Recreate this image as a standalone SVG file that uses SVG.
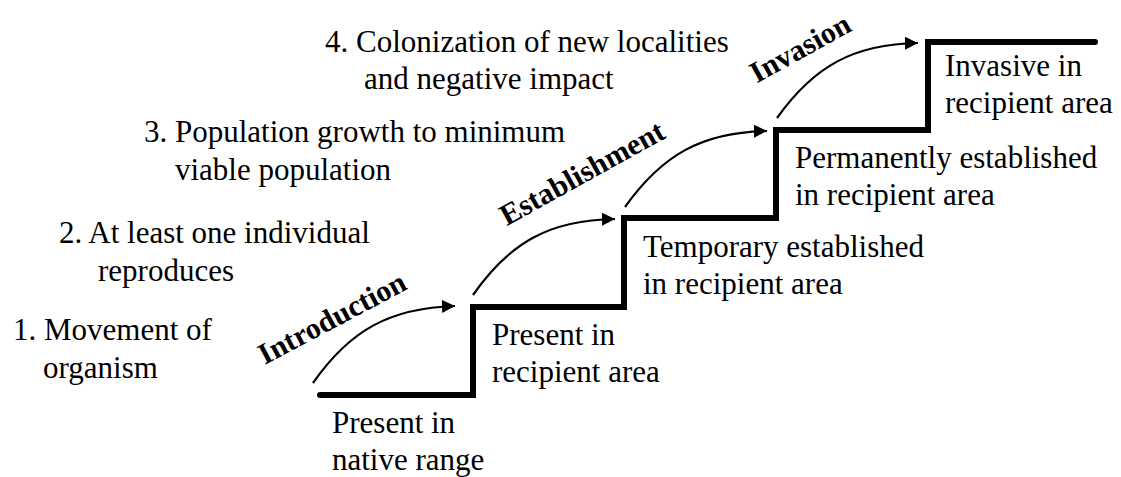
<svg xmlns="http://www.w3.org/2000/svg" width="1121" height="477" viewBox="0 0 1121 477">
<style>
.t{font-family:"Liberation Serif","Times New Roman",serif;font-size:31px;fill:#000}
.b{font-family:"Liberation Serif","Times New Roman",serif;font-size:30px;font-weight:bold;fill:#000;text-anchor:middle}
.arr{fill:none;stroke:#000;stroke-width:2.2;marker-end:url(#ah)}
.stair{fill:none;stroke:#000;stroke-width:6;stroke-linejoin:miter;stroke-linecap:round}
</style>
<defs>
<marker id="ah" markerUnits="userSpaceOnUse" markerWidth="14" markerHeight="14" refX="13" refY="6.5" orient="auto">
<path d="M0,0 L13,6.5 L0,13 z" fill="#000"/>
</marker>
</defs>
<rect width="1121" height="477" fill="#fff"/>
<g id="connectors">
<path class="stair" d="M320,395 H473 V307 H624 V218 H776 V130 H928 V42 H1095"/>
<path class="arr" d="M313,383 C350,330 390,308 455,306"/>
<path class="arr" d="M473,295 C510,242 550,220 615,219"/>
<path class="arr" d="M625,207 C662,155 702,132 767,131"/>
<path class="arr" d="M777,118 C814,66 854,44 918,43"/>
</g>
<g id="label-introduction"><text class="b" transform="translate(332,318) rotate(-28)" y="10">Introduction</text></g>
<g id="label-establishment"><text class="b" transform="translate(582,173) rotate(-29)" y="10">Establishment</text></g>
<g id="label-invasion"><text class="b" transform="translate(800,48) rotate(-29)" y="10">Invasion</text></g>
<g id="step1"><text class="t" x="13" y="340">1. Movement of</text><text class="t" x="43" y="378">organism</text></g>
<g id="step2"><text class="t" x="59" y="243">2. At least one individual</text><text class="t" x="98" y="281">reproduces</text></g>
<g id="step3"><text class="t" x="144" y="142">3. Population growth to minimum</text><text class="t" x="175" y="180">viable population</text></g>
<g id="step4"><text class="t" x="325" y="52">4. Colonization of new localities</text><text class="t" x="364" y="89">and negative impact</text></g>
<g id="stage-native"><text class="t" x="332" y="433">Present in</text><text class="t" x="332" y="470">native range</text></g>
<g id="stage-present"><text class="t" x="492" y="345">Present in</text><text class="t" x="492" y="382">recipient area</text></g>
<g id="stage-temporary"><text class="t" x="643" y="257">Temporary established</text><text class="t" x="643" y="294">in recipient area</text></g>
<g id="stage-permanent"><text class="t" x="795" y="168">Permanently established</text><text class="t" x="795" y="205">in recipient area</text></g>
<g id="stage-invasive"><text class="t" x="945" y="76">Invasive in</text><text class="t" x="945" y="113">recipient area</text></g>
</svg>
